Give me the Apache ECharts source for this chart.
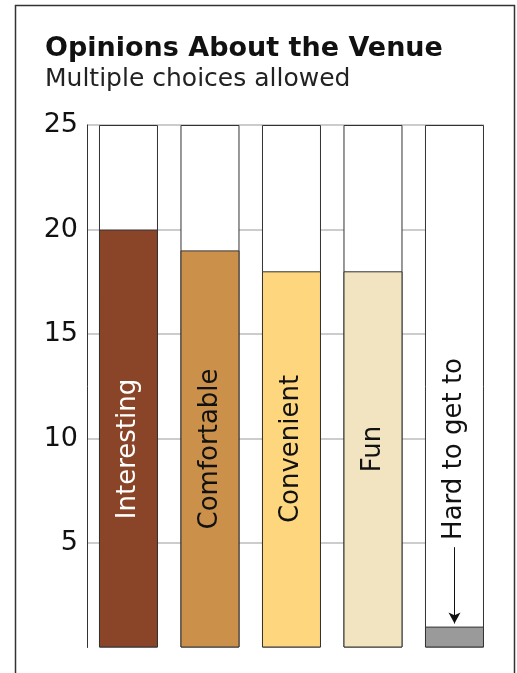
<!DOCTYPE html>
<html>
<head>
<meta charset="UTF-8">
<title>Opinions About the Venue</title>
<script src="https://cdn.jsdelivr.net/npm/echarts@6/dist/echarts.min.js"></script>
<style>
  html, body { margin: 0; padding: 0; background: #fff; }
  #main { width: 517px; height: 673px; }
</style>
</head>
<body>
<div id="main"></div>
<script>
// data
var categories = ['Interesting', 'Comfortable', 'Convenient', 'Fun', 'Hard to get to'];
var values = [20, 19, 18, 18, 1];
var fullScale = [25, 25, 25, 25, 25];
var barColors = ['#8a4428', '#cb914a', '#fdd67e', '#f2e3c1', '#9a9a9a'];
var labelColors = ['#ffffff', '#111111', '#111111', '#111111', '#111111'];
var yTicks = [0, 5, 10, 15, 20, 25];

var FONT = 'DejaVu Sans';
var chart = echarts.init(document.getElementById('main'));

// columns sit at x = 0..4 on a hidden value axis (the plot stops at the last column)
var bgData = fullScale.map(function (v, i) { return [i, v]; });
var fillData = values.map(function (v, i) {
  return { value: [i, v], itemStyle: { color: barColors[i] } };
});
// rotated category names sit in the middle of each column
var labelData = categories.map(function (c, i) {
  return { value: [i, 9.5], name: c, label: { color: labelColors[i] } };
});

var option = {
  animation: false,
  backgroundColor: '#fff',
  title: {
    text: 'Opinions About the Venue',
    subtext: 'Multiple choices allowed',
    left: 40,
    top: 30,
    itemGap: 5,
    textStyle: { fontFamily: FONT, fontSize: 27, fontWeight: 'bold', color: '#111' },
    subtextStyle: { fontFamily: FONT, fontSize: 25, color: '#222' }
  },
  graphic: [{
    type: 'rect',
    shape: { x: 15.5, y: 5.5, width: 499, height: 720 },
    style: { fill: null, stroke: '#333', lineWidth: 1.5 },
    silent: true
  }],
  grid: { left: 87, right: 33, top: 125, bottom: 25.5 },
  xAxis: {
    type: 'value',
    min: -0.509,
    max: 4.362,
    show: false
  },
  yAxis: {
    type: 'value',
    min: yTicks[0],
    max: yTicks[yTicks.length - 1],
    interval: 5,
    axisLine: { show: true, onZero: false, lineStyle: { color: '#333', width: 1 } },
    axisTick: { show: false },
    axisLabel: {
      margin: 9,
      fontFamily: FONT,
      fontSize: 27,
      color: '#111',
      formatter: function (v) { return v === 0 ? '' : String(v); }
    },
    splitLine: { show: true, showMinLine: false, lineStyle: { color: '#bbb', width: 1.5 } }
  },
  series: [
    {
      // white column up to 25
      type: 'bar',
      data: bgData,
      barWidth: 59,
      barGap: '-100%',
      itemStyle: { color: '#fff', borderColor: '#333', borderWidth: 1 },
      silent: true
    },
    {
      type: 'bar',
      data: fillData,
      barWidth: 59,
      itemStyle: { borderColor: '#333', borderWidth: 1 },
      markLine: {
        silent: true,
        symbol: ['none', 'arrow'],
        symbolSize: [9, 11],
        label: { show: false },
        lineStyle: { color: '#111', width: 1, type: 'solid' },
        data: [[
          { coord: [4, 4.8] },
          { coord: [4, 1.15] }
        ]]
      }
    },
    {
      type: 'scatter',
      data: labelData,
      symbolSize: 1,
      itemStyle: { color: 'transparent', opacity: 1 },
      silent: true,
      z: 5,
      label: {
        show: true,
        position: 'inside',
        rotate: 90,
        opacity: 1,
        fontFamily: FONT,
        fontSize: 26,
        formatter: function (p) { return p.name; }
      }
    }
  ]
};

chart.setOption(option);
</script>
</body>
</html>
